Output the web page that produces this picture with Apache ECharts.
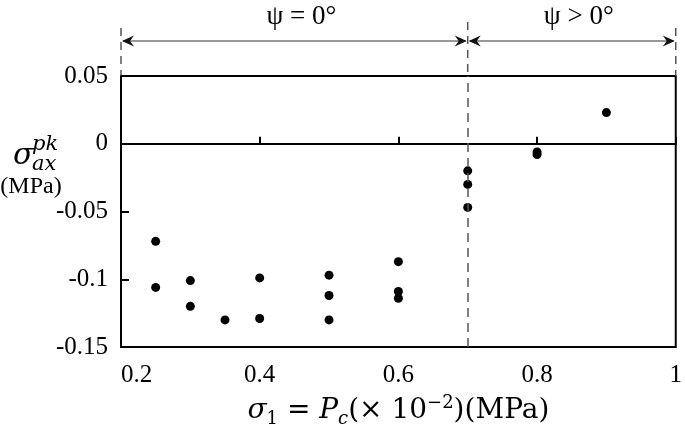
<!DOCTYPE html>
<html>
<head>
<meta charset="utf-8">
<script src="https://cdn.jsdelivr.net/npm/echarts@6/dist/echarts.min.js"></script>
<style>
  html, body { margin: 0; padding: 0; background: #fff; }
  #main { width: 685px; height: 432px; }
</style>
</head>
<body>
<div id="main"></div>
<script>
// 坐标轴刻度
const xTicks = [0.2, 0.4, 0.6, 0.8, 1];
const yTicks = [-0.15, -0.1, -0.05, 0, 0.05];

// 数据点 (sigma1, sigma_ax^pk)
const sigma1 = [0.25, 0.25, 0.3, 0.3, 0.35, 0.4, 0.4, 0.5, 0.5, 0.5, 0.6, 0.6, 0.6, 0.7, 0.7, 0.7, 0.8, 0.8, 0.9];
const sigmaPk = [-0.072, -0.106, -0.101, -0.120, -0.130, -0.099, -0.129, -0.097, -0.112, -0.130,
  -0.087, -0.109, -0.114, -0.020, -0.030, -0.047, -0.006, -0.008, 0.023];

// psi 区域划分
const boundary = 0.7;
const regions = [
  { text: "ψ = 0°", from: 0.2, to: 0.7 },
  { text: "ψ > 0°", from: 0.7, to: 1 },
];

const serif = '"Liberation Serif", "Times New Roman", serif';
const math = '"DejaVu Serif", serif';

const chart = echarts.init(document.getElementById("main"));

chart.setOption({
  animation: false,
  grid: {
    left: 121, right: 7, top: 76, bottom: 85,
    show: true, borderColor: "#000", borderWidth: 2,
  },
  xAxis: [
    {
      // 底部标签
      type: "value",
      position: "bottom",
      min: xTicks[0],
      max: xTicks[xTicks.length - 1],
      interval: 0.2,
      axisLine: { show: false, onZero: false },
      axisTick: { show: false },
      splitLine: { show: false },
      axisLabel: {
        margin: 16,
        fontFamily: serif,
        fontSize: 25,
        color: "#000",
        alignMinLabel: "left",
        formatter: (v) => String(+v.toFixed(2)),
      },
    },
    {
      // y=0 处的横线
      type: "value",
      position: "top",
      min: xTicks[0],
      max: xTicks[xTicks.length - 1],
      interval: 0.2,
      axisLine: { show: true, onZero: true, lineStyle: { color: "#000", width: 2 } },
      axisTick: { show: true, length: 7, lineStyle: { color: "#000", width: 2 } },
      axisLabel: { show: false },
      splitLine: { show: false },
    },
  ],
  yAxis: {
    type: "value",
    min: yTicks[0],
    max: yTicks[yTicks.length - 1],
    interval: 0.05,
    axisLine: { show: false, onZero: false },
    axisTick: { show: true, inside: true, length: 8, lineStyle: { color: "#000", width: 2 } },
    splitLine: { show: false },
    axisLabel: {
      margin: 13,
      fontFamily: serif,
      fontSize: 25,
      color: "#000",
      formatter: (v) => String(+v.toFixed(2)),
    },
  },
  series: [
    {
      type: "scatter",
      xAxisIndex: 0,
      symbol: "circle",
      symbolSize: 9,
      itemStyle: { color: "#000", opacity: 1 },
      data: sigma1.map((x, i) => [x, sigmaPk[i]]),
      markLine: {
        silent: true,
        symbol: "none",
        label: { show: false },
        lineStyle: { color: "#555", type: [9, 6], width: 1.5 },
        data: [{ xAxis: boundary }],
      },
    },
  ],
});

// 标注：虚线、箭头、文字
const toPx = (x, y) => chart.convertToPixel({ gridIndex: 0 }, [x, y]);
const plotTop = toPx(xTicks[0], yTicks[yTicks.length - 1])[1];
const plotBottom = toPx(xTicks[0], yTicks[0])[1];
const arrowY = plotTop - 35;

function dash(x, y1, y2) {
  return {
    type: "line",
    shape: { x1: x, y1: y1, x2: x, y2: y2 },
    style: { stroke: "#555", lineWidth: 1.5, lineDash: [8, 6] },
  };
}
function head(tipX, y, dir) {
  return {
    type: "polygon",
    shape: { points: [[tipX, y], [tipX - dir * 12, y - 5.5], [tipX - dir * 8, y], [tipX - dir * 12, y + 5.5]] },
    style: { fill: "#111" },
  };
}

const graphics = [];
const xL = toPx(regions[0].from, 0)[0];
const xM = toPx(boundary, 0)[0];
const xR = toPx(regions[1].to, 0)[0];
graphics.push(dash(xL, plotTop - 48, plotTop));
graphics.push(dash(xM, plotTop - 54, plotTop));
graphics.push(dash(xR, plotTop - 48, plotTop));

regions.forEach((r) => {
  const a = toPx(r.from, 0)[0];
  const b = toPx(r.to, 0)[0];
  graphics.push({
    type: "line",
    shape: { x1: a + 2, y1: arrowY, x2: b - 2, y2: arrowY },
    style: { stroke: "#333", lineWidth: 1.2 },
  });
  graphics.push(head(a + 1, arrowY, -1));
  graphics.push(head(b - 1, arrowY, 1));
  graphics.push({
    type: "text",
    style: {
      text: r.text, x: (a + b) / 2 + 7, y: plotTop - 59,
      font: "27px " + serif, fill: "#000", align: "center", verticalAlign: "middle",
    },
  });
});

// y 轴标题
graphics.push({
  type: "text",
  style: { text: "σ", x: 13, y: 156, font: "italic 30px " + math, fill: "#000", verticalAlign: "middle" },
});
graphics.push({
  type: "text",
  style: { text: "pk", x: 32, y: 145, font: "italic 21px " + math, fill: "#000", verticalAlign: "middle" },
});
graphics.push({
  type: "text",
  style: { text: "ax", x: 32, y: 165, font: "italic 21px " + math, fill: "#000", verticalAlign: "middle" },
});
graphics.push({
  type: "text",
  style: { text: "(MPa)", x: 31, y: 187, font: "24px " + serif, fill: "#000", align: "center", verticalAlign: "middle" },
});

// x 轴标题
const xMid = (xL + xR) / 2;
graphics.push({
  type: "text",
  style: {
    x: xMid, y: plotBottom + 64, align: "center", verticalAlign: "middle",
    text: "{i|σ}{sub|1}{r| = }{i|P}{subi|c}{r|(× 10}{sup|−2}{r|)(MPa)}",
    rich: {
      i: { fontFamily: math, fontStyle: "italic", fontSize: 28, lineHeight: 34, color: "#000" },
      r: { fontFamily: math, fontSize: 28, lineHeight: 34, color: "#000" },
      sub: { fontFamily: math, fontSize: 18, lineHeight: 14, verticalAlign: "bottom", color: "#000" },
      subi: { fontFamily: math, fontStyle: "italic", fontSize: 18, lineHeight: 14, verticalAlign: "bottom", color: "#000" },
      sup: { fontFamily: math, fontSize: 18, lineHeight: 14, verticalAlign: "top", color: "#000" },
    },
  },
});

chart.setOption({ graphic: graphics });
</script>
</body>
</html>
